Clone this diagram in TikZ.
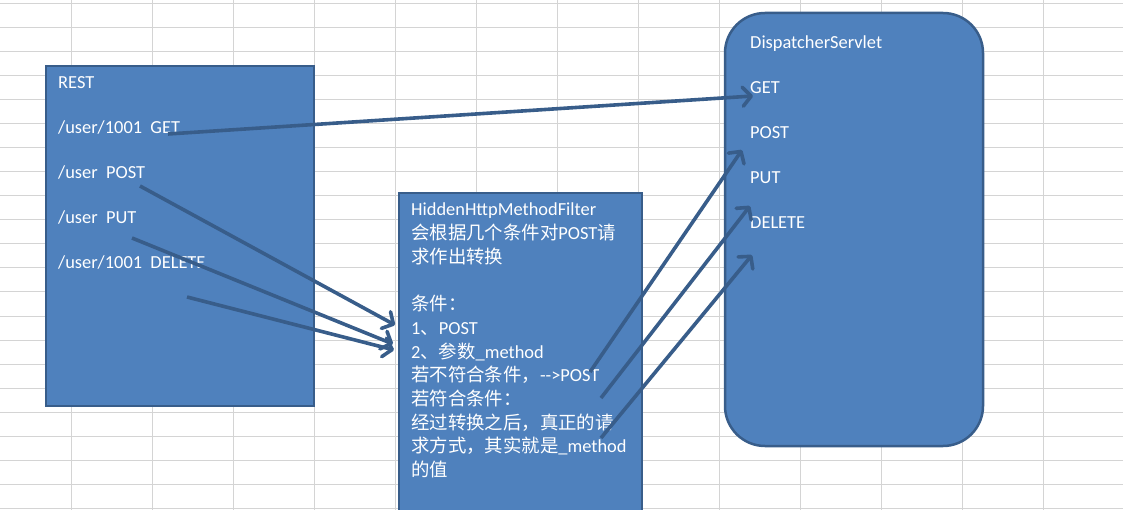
\documentclass[tikz,border=0pt]{standalone}
\usepackage{fontspec}
\usetikzlibrary{arrows.meta}
\setmainfont{Carlito}
\newfontfamily\cjk{Noto Sans CJK SC}
\newcommand{\zh}[1]{{\cjk #1}}
\definecolor{boxblue}{HTML}{4F81BD}
\definecolor{edgeblue}{HTML}{385D8A}
\definecolor{gridgray}{HTML}{D4D4D4}

\begin{document}
\begin{tikzpicture}[x=1pt,y=-1pt,
  box/.style={fill=boxblue, draw=edgeblue, line width=2.5pt},
  lbl/.style={anchor=base west, inner sep=0pt, text=white, font=\fontsize{18.4}{23.7}\selectfont},
  flow/.style={edgeblue, line width=3.6pt, -{Straight Barb[length=8.5pt,width=19pt,round]}}]
\useasboundingbox (0,0) rectangle (1123,510);
\clip (0,0) rectangle (1123,510);
% sheet grid behind
\foreach \y in {4,28,...,508} \draw[gridgray, line width=1pt] (0,\y) -- (1123,\y);
\foreach \x in {71,152,...,1123} \draw[gridgray, line width=1pt] (\x,0) -- (\x,510);
% the three boxes
\draw[box] (46,66) rectangle (314,406);
\draw[box] (399,193) rectangle (642,530);
\draw[box, rounded corners=40pt] (725,13) rectangle (983,446);
% REST side
\node[lbl] (rest) at (58,89) {REST};
\node[lbl] (uget) at (58,134) {/user/1001\ \ GET};
\node[lbl] (upost) at (58,179) {/user\ \ POST};
\node[lbl] (uput) at (58,224) {/user\ \ PUT};
\node[lbl] (udel) at (58,269) {/user/1001\ \ DELETE};
% filter
\node[lbl, anchor=north west, align=left] (filter) at (411,203) {HiddenHttpMethodFilter\\
  \zh{会根据几个条件对}POST\zh{请}\\
  \zh{求作出转换}\\[23.7pt]
  \zh{条件：}\\
  1\zh{、}POST\\
  2\zh{、参数}\_method\\
  \zh{若不符合条件，}-{}-{}>POST\\
  \zh{若符合条件：}\\
  \zh{经过转换之后，真正的请}\\
  \zh{求方式，其实就是}\_method\\
  \zh{的值}};
% servlet
\node[lbl] (ds) at (750,49) {DispatcherServlet};
\node[lbl] (dget) at (750,94) {GET};
\node[lbl] (dpost) at (750,139) {POST};
\node[lbl] (dput) at (750,184) {PUT};
\node[lbl] (ddel) at (750,229) {DELETE};
% arrow ends
\coordinate (getout) at (168,134);  \coordinate (getin) at (753,96);
\coordinate (postout) at (140,186); \coordinate (postin) at (395,325);
\coordinate (putout) at (132,238);  \coordinate (putin) at (393,344);
\coordinate (delout) at (187,297);  \coordinate (delin) at (394,350);
\coordinate (f1) at (590,372); \coordinate (t1) at (742,150);
\coordinate (f2) at (601,398); \coordinate (t2) at (750,206);
\coordinate (f3) at (601,438); \coordinate (t3) at (752,255);
\draw[flow] (getout) -- (getin);
\draw[flow] (postout) -- (postin);
\draw[flow] (putout) -- (putin);
\draw[flow] (delout) -- (delin);
\draw[flow] (f1) -- (t1);
\draw[flow] (f2) -- (t2);
\draw[flow] (f3) -- (t3);
\end{tikzpicture}
\end{document}
